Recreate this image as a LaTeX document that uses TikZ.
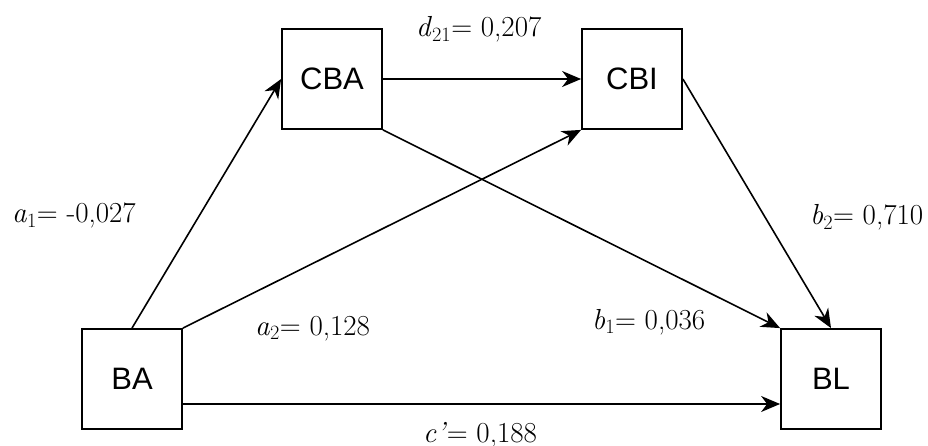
\documentclass[tikz,border=0pt]{standalone}
\usepackage{fontspec}
\setsansfont{Liberation Sans}
\usetikzlibrary{arrows.meta}
\begin{document}
\begin{tikzpicture}[x=1pt,y=-1pt,
  var/.style={draw,line width=1.8pt,minimum width=100pt,minimum height=100pt,
    inner sep=0pt,font=\sffamily\fontsize{31}{36}\selectfont},
  arr/.style={line width=1.6pt,-{Stealth[length=19pt,width=16pt,inset=6pt]}},
  coef/.style={anchor=base west,inner sep=0pt,font=\fontsize{29}{34}\selectfont}]
\useasboundingbox (0,0) rectangle (928,446);

% variables
\node[var] (BA)  at (132,379) {BA};
\node[var] (CBA) at (332,79)  {CBA};
\node[var] (CBI) at (632,79)  {CBI};
\node[var] (BL)  at (831,379) {BL};

% paths
\draw[arr] (BA.north) -- (CBA.west);
\draw[arr] (BA.north east) -- (CBI.south west);
\draw[arr] (CBA.east) -- (CBI.west);
\draw[arr] (CBA.south east) -- (BL.north west);
\draw[arr] (CBI.east) -- (BL.north);
\draw[arr] ([yshift=-25pt]BA.east) -- ([yshift=-25pt]BL.west);

% path coefficients
\node[coef] (d21) at (416,37)  {\textit{d}\textsubscript{21}= 0,207};
\node[coef] (a1)  at (12,223)  {\textit{a}\textsubscript{1}= -0,027};
\node[coef] (b2)  at (810,225) {\textit{b}\textsubscript{2}= 0,710};
\node[coef] (a2)  at (255,335) {\textit{a}\textsubscript{2}= 0,128};
\node[coef] (b1)  at (592,329) {\textit{b}\textsubscript{1}= 0,036};
\node[coef] (cp)  at (423,442) {\textit{c’}= 0,188};
\end{tikzpicture}
\end{document}
